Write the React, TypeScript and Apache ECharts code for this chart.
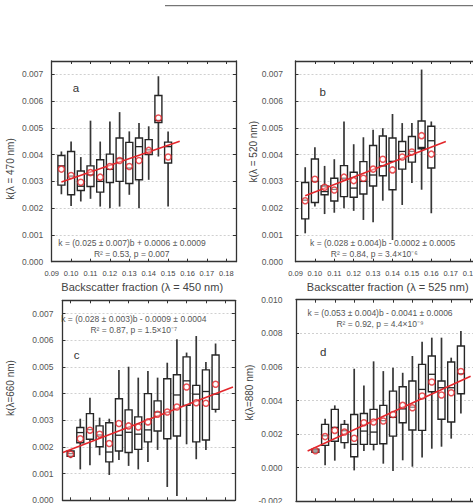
import { useEffect, useRef } from "react";
import * as echarts from "echarts";

const FONT = "'Liberation Sans', Arial, sans-serif";

// Backscatter-fraction bin centres for each panel
const binsA = [0.095, 0.1, 0.105, 0.11, 0.115, 0.12, 0.125, 0.13, 0.135, 0.14, 0.145, 0.15];
const binsB = [0.095, 0.1, 0.105, 0.11, 0.115, 0.12, 0.125, 0.13, 0.135, 0.14, 0.145, 0.15, 0.155, 0.16];
const binsC = [0.1, 0.105, 0.11, 0.115, 0.12, 0.125, 0.13, 0.135, 0.14, 0.145, 0.15, 0.155, 0.16, 0.165, 0.17, 0.175];
const binsD = [0.1, 0.105, 0.11, 0.115, 0.12, 0.125, 0.13, 0.135, 0.14, 0.145, 0.15, 0.155, 0.16, 0.165, 0.17, 0.175];

// Box statistics per bin, in units of 1e-3: [min, Q1, median, Q3, max]
const boxesA = [
  [2.52, 2.86, 3.58, 3.97, 4.12], [2.08, 2.5, 3.2, 4.12, 4.49], [2.25, 2.66, 2.82, 3.39, 3.91],
  [2.35, 2.81, 3.25, 3.58, 5.27], [2.06, 2.6, 3.0, 3.81, 4.49], [2.0, 2.96, 3.45, 4.02, 5.24],
  [2.06, 3.0, 3.85, 4.62, 5.59], [2.5, 2.92, 3.5, 4.46, 4.87], [2.0, 3.06, 4.3, 4.62, 5.18],
  [3.06, 4.0, 4.18, 4.56, 5.06], [3.93, 5.2, 5.28, 6.21, 6.93], [2.06, 3.69, 4.3, 4.47, 4.87],
];
const boxesB = [
  [1.06, 1.6, 2.3, 2.96, 3.53], [2.06, 2.21, 3.0, 3.84, 4.28], [1.78, 2.5, 2.62, 2.83, 3.58],
  [1.83, 2.27, 2.7, 3.12, 3.83], [2.0, 2.43, 3.12, 3.59, 5.24], [1.9, 2.41, 2.75, 3.34, 4.39],
  [1.56, 2.53, 3.0, 3.74, 4.65], [1.47, 2.83, 3.24, 4.34, 4.93], [2.28, 3.21, 3.58, 4.7, 4.99],
  [0.81, 2.69, 3.75, 4.62, 5.52], [2.12, 3.46, 4.12, 4.49, 5.18], [2.94, 3.72, 4.12, 4.68, 5.18],
  [2.69, 4.22, 4.27, 5.26, 7.18], [1.81, 3.5, 4.52, 5.06, 5.24],
];
const boxesC = [
  [1.58, 1.65, 1.75, 1.85, 1.92], [1.16, 2.16, 2.54, 2.73, 3.06], [1.31, 2.29, 2.65, 3.25, 3.85],
  [1.69, 2.01, 2.45, 2.79, 3.1], [0.95, 1.44, 1.81, 2.91, 3.06], [1.51, 1.85, 2.44, 3.81, 4.89],
  [1.29, 1.79, 2.55, 3.39, 5.01], [1.16, 1.91, 2.48, 3.13, 4.6], [1.44, 2.19, 2.64, 4.0, 4.85],
  [1.89, 2.6, 3.3, 3.73, 4.6], [0.5, 2.31, 3.3, 4.56, 5.16], [0.16, 2.41, 3.95, 4.71, 6.04],
  [2.1, 3.56, 4.48, 5.38, 5.54], [1.54, 2.19, 3.98, 4.31, 6.16], [1.89, 2.26, 4.08, 4.89, 5.19],
  [3.29, 3.41, 3.98, 5.45, 5.88],
];
const boxesD = [
  [0.88, 0.92, 1.0, 1.1, 1.15], [0.14, 1.33, 1.9, 2.58, 2.92], [0.42, 1.57, 2.4, 3.47, 3.71],
  [1.13, 1.49, 2.2, 2.58, 2.84], [-0.16, 0.65, 1.39, 3.17, 5.89], [1.0, 1.39, 2.18, 3.23, 4.9],
  [1.03, 1.39, 2.12, 3.47, 6.33], [0.24, 1.43, 2.8, 3.71, 5.75], [-0.2, 1.88, 3.0, 4.56, 5.95],
  [0.44, 2.68, 3.5, 4.82, 5.65], [0.06, 2.24, 3.6, 5.16, 6.65], [0.6, 2.22, 4.66, 6.15, 7.5],
  [1.13, 4.52, 5.56, 6.65, 7.74], [1.25, 2.88, 4.76, 5.16, 7.74], [1.73, 2.72, 4.76, 6.29, 6.55],
  [3.22, 4.4, 5.6, 7.24, 8.13],
];

// Bin means, in units of 1e-3
const meansA = [3.46, 3.22, 2.97, 3.33, 3.16, 3.56, 3.78, 3.56, 3.78, 4.16, 5.37, 3.91];
const meansB = [2.28, 3.08, 2.78, 2.68, 3.16, 3.03, 3.12, 3.46, 3.83, 3.43, 3.91, 4.1, 4.71, 4.02];
const meansC = [1.73, 2.31, 2.63, 2.48, 2.13, 2.88, 2.79, 2.75, 2.94, 3.23, 3.31, 3.5, 4.25, 3.66, 3.64, 4.35];
const meansD = [1.01, 1.85, 2.22, 2.12, 1.75, 2.68, 2.72, 2.78, 3.17, 3.71, 3.57, 4.27, 5.1, 4.33, 4.46, 5.73];

// Linear fits k = slope * b + intercept, drawn over [from, to]
const fitSlope = [0.025, 0.028, 0.028, 0.053];
const fitIntercept = [0.0006, -0.0002, -0.0009, -0.0041];
const fitRange = [[0.095, 0.156], [0.095, 0.1675], [0.096, 0.184], [0.096, 0.18]];

const fitText = [
  "k = (0.025 ± 0.007)b + 0.0006 ± 0.0009",
  "k = (0.028 ± 0.004)b - 0.0002 ± 0.0005",
  "k = (0.028 ± 0.003)b - 0.0009 ± 0.0004",
  "k = (0.053 ± 0.004)b - 0.0041 ± 0.0006",
];
const statText = [
  "R² = 0.53, p = 0.007",
  "R² = 0.84, p = 3.4×10⁻⁶",
  "R² = 0.87, p = 1.5×10⁻⁷",
  "R² = 0.92, p = 4.4×10⁻⁹",
];
const panelLetters = ["a", "b", "c", "d"];
const yTitles = ["k(λ = 470 nm)", "k(λ = 520 nm)", "k(λ=660 nm)", "k(λ=880 nm)"];
const xTitles = ["Backscatter fraction (λ = 450 nm)", "Backscatter fraction (λ = 525 nm)"];

const bins = [binsA, binsB, binsC, binsD];
const boxes = [boxesA, boxesB, boxesC, boxesD];
const means = [meansA, meansB, meansC, meansD];

// Panel frames and axis ranges (bottom panels' x labels fall below the page)
const panels = [
  { left: 51.7, top: 61, width: 184.3, height: 200.7, xMin: 0.09, xMax: 0.185, yMin: 0, yMax: 0.0075, yStep: 0.001, yMargin: 8.5, xLabels: true, letter: [76, 88], eq: [132, 242.7], st: [131.7, 254.3], yt: [10, 169] },
  { left: 295.5, top: 61, width: 184.3, height: 200.7, xMin: 0.09, xMax: 0.185, yMin: 0, yMax: 0.0075, yStep: 0.001, yMargin: 12.5, xLabels: true, letter: [322.7, 91.5], eq: [382.7, 242.7], st: [374.3, 254.3], yt: [253, 151.7] },
  { left: 62.5, top: 300.3, width: 172.4, height: 200, xMin: 0.0958, xMax: 0.185, yMin: 0, yMax: 0.0075, yStep: 0.001, yMargin: 9, xLabels: false, letter: [76.5, 355.3], eq: [133.8, 319.3], st: [133.8, 329.5], yt: [10, 388] },
  { left: 296, top: 299.7, width: 184.3, height: 201.6, xMin: 0.09, xMax: 0.185, yMin: -0.002, yMax: 0.01, yStep: 0.002, yMargin: 13.5, xLabels: false, letter: [323.3, 351.7], eq: [380, 312.7], st: [380, 323.5], yt: [249.3, 392.5] },
];
const xTitlePos = [[142.2, 286.7], [387.7, 287.3]];

const FRAME = "#333";
const RED = "#e3262b";
const BOX_W = 7;

const isMultiple = (v: number, step: number) => Math.abs(v / step - Math.round(v / step)) < 1e-6;

function renderBox(_params: any, api: any) {
  const x = api.value(0);
  const lo = api.coord([x, api.value(1)]);
  const q1 = api.coord([x, api.value(2)]);
  const md = api.coord([x, api.value(3)]);
  const q3 = api.coord([x, api.value(4)]);
  const hi = api.coord([x, api.value(5)]);
  return {
    type: "group",
    children: [
      { type: "line", shape: { x1: lo[0], y1: lo[1], x2: hi[0], y2: hi[1] }, style: { stroke: "#363636", lineWidth: 1.7 } },
      { type: "rect", shape: { x: q3[0] - BOX_W / 2, y: q3[1], width: BOX_W, height: q1[1] - q3[1] }, style: { fill: "#fff", stroke: "#262626", lineWidth: 1.4 } },
      { type: "line", shape: { x1: md[0] - BOX_W / 2, y1: md[1], x2: md[0] + BOX_W / 2, y2: md[1] }, style: { stroke: "#262626", lineWidth: 1.3 } },
    ],
  };
}

function buildOption() {
  const grid: any[] = [];
  const xAxis: any[] = [];
  const yAxis: any[] = [];
  const series: any[] = [];
  const graphic: any[] = [];
  const lineStyle = { color: FRAME, width: 1.3 };
  const tick = { show: true, inside: true, length: 3, lineStyle: { color: FRAME, width: 1 } };

  panels.forEach((p, i) => {
    grid.push({ left: p.left, top: p.top, width: p.width, height: p.height, containLabel: false, outerBoundsMode: "none" });
    const xBase: any = {
      type: "value", gridIndex: i, min: p.xMin, max: p.xMax,
      axisLine: { show: true, onZero: false, lineStyle }, axisTick: tick, splitLine: { show: false },
    };
    if (isMultiple(p.xMin, 0.01)) xBase.interval = 0.01; else xBase.splitNumber = 9;
    xAxis.push({
      ...xBase, position: "bottom",
      axisLabel: {
        show: p.xLabels, margin: 8, fontSize: 7.5, color: "#444", fontFamily: FONT,
        formatter: (v: number) => (isMultiple(v, 0.01) ? v.toFixed(2) : ""),
      },
    });
    xAxis.push({ ...xBase, position: "top", axisLabel: { show: false } });
    const yBase: any = {
      type: "value", gridIndex: i, min: p.yMin, max: p.yMax, interval: p.yStep,
      axisLine: { show: true, onZero: false, lineStyle }, axisTick: tick,
    };
    yAxis.push({
      ...yBase, position: "left",
      axisLabel: {
        show: true, margin: p.yMargin, fontSize: 8.5, color: "#555", fontFamily: FONT,
        formatter: (v: number) => (isMultiple(v, p.yStep) ? v.toFixed(3) : ""),
      },
      splitLine: { show: true, lineStyle: { color: "#c4c4c4", width: 0.8, type: [2, 2] } },
    });
    yAxis.push({ ...yBase, position: "right", axisLabel: { show: false }, splitLine: { show: false } });

    const xi = i * 2;
    const yi = i * 2;
    series.push({
      type: "custom", xAxisIndex: xi, yAxisIndex: yi, z: 2,
      renderItem: renderBox,
      encode: { x: 0, y: [1, 2, 3, 4, 5] },
      data: bins[i].map((b, j) => [b, ...boxes[i][j].map((v) => v * 0.001)]),
    });
    const [f0, f1] = fitRange[i];
    series.push({
      type: "line", xAxisIndex: xi, yAxisIndex: yi, z: 3, symbol: "none",
      lineStyle: { color: RED, width: 1.6 },
      data: [[f0, fitSlope[i] * f0 + fitIntercept[i]], [f1, fitSlope[i] * f1 + fitIntercept[i]]],
    });
    series.push({
      type: "scatter", xAxisIndex: xi, yAxisIndex: yi, z: 4, symbol: "circle", symbolSize: 6,
      itemStyle: { color: "rgba(255,255,255,0.55)", borderColor: RED, borderWidth: 1.5 },
      data: bins[i].map((b, j) => [b, means[i][j] * 0.001]),
    });

    graphic.push(
      { type: "text", x: p.letter[0], y: p.letter[1], style: { text: panelLetters[i], fontSize: 11.5, fontFamily: FONT, fill: "#333", align: "center", verticalAlign: "middle" } },
      { type: "text", x: p.eq[0], y: p.eq[1], style: { text: fitText[i], fontSize: 8.5, fontFamily: FONT, fill: "#555", align: "center", verticalAlign: "middle" } },
      { type: "text", x: p.st[0], y: p.st[1], style: { text: statText[i], fontSize: 8.5, fontFamily: FONT, fill: "#555", align: "center", verticalAlign: "middle" } },
      { type: "text", x: p.yt[0], y: p.yt[1], rotation: Math.PI / 2, style: { text: yTitles[i], fontSize: 10, fontFamily: FONT, fill: "#444", align: "center", verticalAlign: "middle" } },
    );
  });

  xTitles.forEach((t, i) => {
    graphic.push({ type: "text", x: xTitlePos[i][0], y: xTitlePos[i][1], style: { text: t, fontSize: 11, fontFamily: FONT, fill: "#444", align: "center", verticalAlign: "middle" } });
  });
  graphic.push({ type: "line", shape: { x1: 165, y1: 5.7, x2: 473, y2: 5.7 }, style: { stroke: "#555", lineWidth: 1 } });

  return { animation: false, backgroundColor: "#fff", grid, xAxis, yAxis, series, graphic };
}

export default function App() {
  const ref = useRef<HTMLDivElement>(null);
  useEffect(() => {
    if (!ref.current) return;
    const chart = echarts.init(ref.current, undefined, { renderer: "svg" });
    chart.setOption(buildOption() as any);
    return () => chart.dispose();
  }, []);
  return <div ref={ref} style={{ position: "absolute", left: 0, top: 0, width: 473, height: 503 }} />;
}
